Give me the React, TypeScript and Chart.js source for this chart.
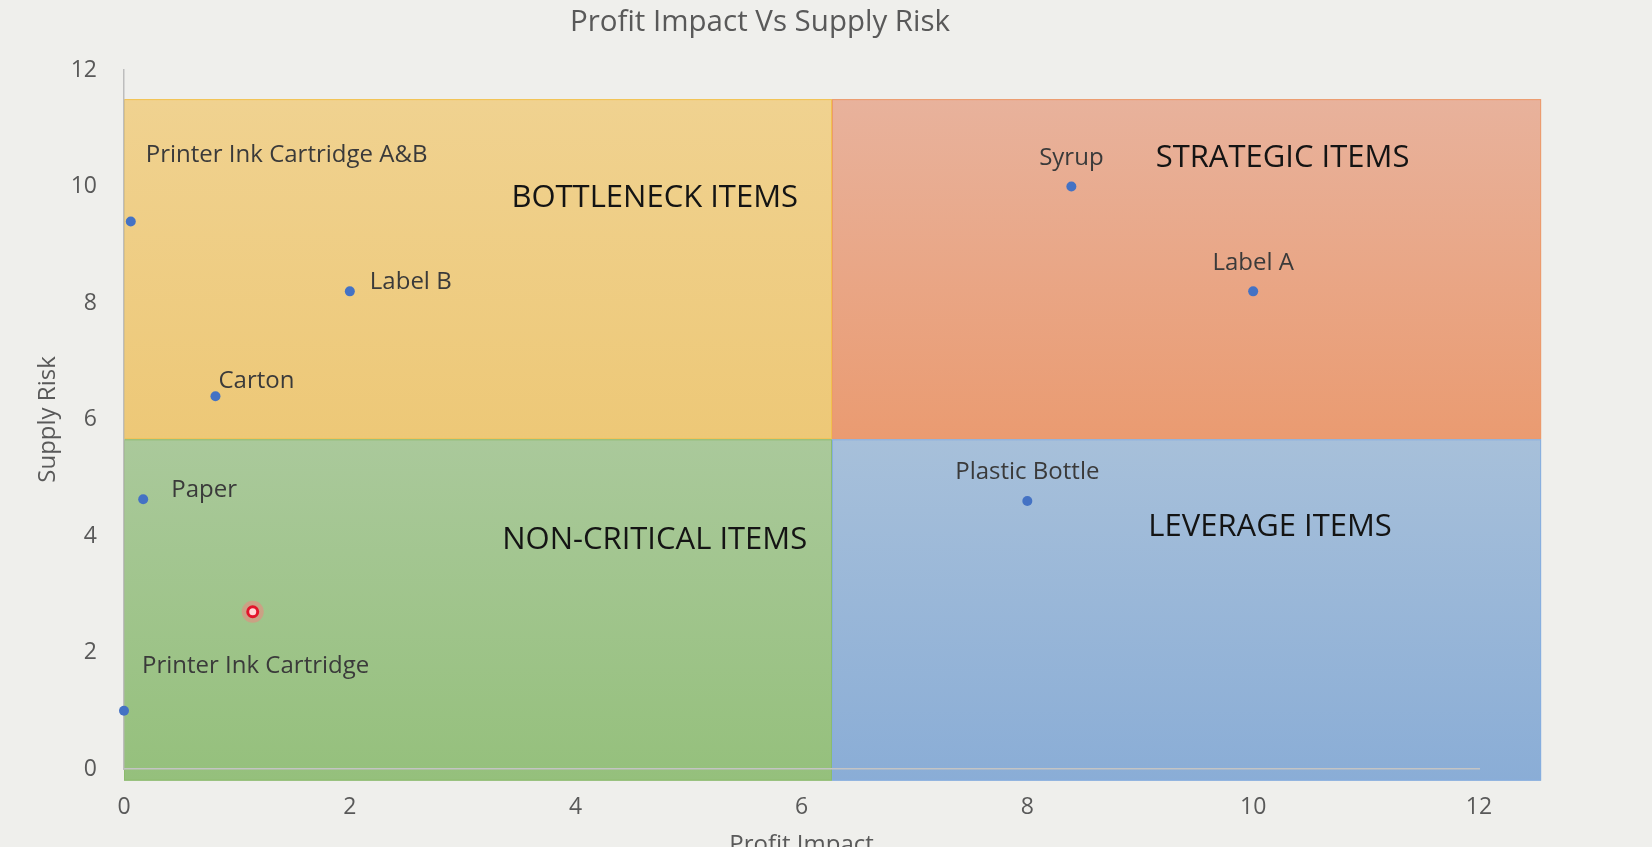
import React, { useEffect, useRef } from "react";
import { Chart, registerables } from "chart.js";

Chart.register(...registerables);

// ---- data ----
const ITEM_NAMES = [
  "Printer Ink Cartridge A&B",
  "Label B",
  "Carton",
  "Paper",
  "Printer Ink Cartridge",
  "Syrup",
  "Label A",
  "Plastic Bottle",
];
const PROFIT_IMPACT = [0.06, 2.0, 0.81, 0.17, 0.0, 8.39, 10.0, 8.0];
const SUPPLY_RISK = [9.4, 8.2, 6.4, 4.63, 1.0, 10.0, 8.2, 4.6];

const POINTER_X = [1.14];
const POINTER_Y = [2.7];

const X_TICKS = [0, 2, 4, 6, 8, 10, 12];
const Y_TICKS = [0, 2, 4, 6, 8, 10, 12];

const QUADRANT_NAMES = ["BOTTLENECK ITEMS", "STRATEGIC ITEMS", "NON-CRITICAL ITEMS", "LEVERAGE ITEMS"];
const QUADRANT_X_EDGES = [0, 6.27, 12.55];
const QUADRANT_Y_EDGES = [-0.2, 5.66, 11.5];
const QUADRANT_LABEL_X = [4.7, 10.26, 4.7, 10.15];
const QUADRANT_LABEL_Y = [9.8, 10.48, 3.92, 4.15];

const TITLE = "Profit Impact Vs Supply Risk";
const X_TITLE = "Profit Impact";
const Y_TITLE = "Supply Risk";

// ---- styles (label placement relative to point, in px) ----
const LABEL_STYLE: { dx: number; dy: number; align: CanvasTextAlign }[] = [
  { dx: 15, dy: -66, align: "left" },
  { dx: 20, dy: -9, align: "left" },
  { dx: 3, dy: -15, align: "left" },
  { dx: 28, dy: -9, align: "left" },
  { dx: 18, dy: -45, align: "left" },
  { dx: 0, dy: -28, align: "center" },
  { dx: 0, dy: -28, align: "center" },
  { dx: 0, dy: -29, align: "center" },
];

// quadrant order: top-left, top-right, bottom-left, bottom-right
const QUADRANT_STYLE = [
  { top: "#F0D290", bottom: "#EDC877", stroke: "#F2C24E" },
  { top: "#E8B29C", bottom: "#EA9B71", stroke: "#EC9A6B" },
  { top: "#AAC99B", bottom: "#95C07C", stroke: "#8CBB6E" },
  { top: "#A7C0DA", bottom: "#8AADD6", stroke: "#86AEE0" },
];

const FONT = '"Open Sans", "DejaVu Sans", sans-serif';

const backgroundPlugin = {
  id: "quadrants",
  beforeDraw(chart: any) {
    const { ctx, scales } = chart;
    const xs = scales.x;
    const ys = scales.y;
    ctx.save();
    ctx.fillStyle = "#EFEFEC";
    ctx.fillRect(0, 0, chart.width, chart.height);
    for (let q = 0; q < 4; q++) {
      const col = q % 2;
      const row = q < 2 ? 1 : 0;
      const x0 = xs.getPixelForValue(QUADRANT_X_EDGES[col]);
      const x1 = xs.getPixelForValue(QUADRANT_X_EDGES[col + 1]);
      const yTop = ys.getPixelForValue(QUADRANT_Y_EDGES[row + 1]);
      const yBot = ys.getPixelForValue(QUADRANT_Y_EDGES[row]);
      const st = QUADRANT_STYLE[q];
      const g = ctx.createLinearGradient(0, yTop, 0, yBot);
      g.addColorStop(0, st.top);
      g.addColorStop(1, st.bottom);
      ctx.fillStyle = g;
      ctx.fillRect(x0, yTop, x1 - x0, yBot - yTop);
      ctx.strokeStyle = st.stroke;
      ctx.lineWidth = 1;
      ctx.strokeRect(x0 + 0.5, yTop + 0.5, x1 - x0 - 1, yBot - yTop - 1);
    }
    ctx.restore();
  },
};

const textPlugin = {
  id: "texts",
  afterDatasetsDraw(chart: any) {
    const { ctx, scales } = chart;
    const xs = scales.x;
    const ys = scales.y;
    ctx.save();
    // quadrant names
    ctx.font = `31px ${FONT}`;
    ctx.fillStyle = "#141414";
    ctx.textAlign = "center";
    ctx.textBaseline = "middle";
    QUADRANT_NAMES.forEach((name, i) => {
      ctx.fillText(name, xs.getPixelForValue(QUADRANT_LABEL_X[i]), ys.getPixelForValue(QUADRANT_LABEL_Y[i]));
    });
    // data labels
    const meta = chart.getDatasetMeta(0);
    ctx.font = `24px ${FONT}`;
    ctx.fillStyle = "#3A3A3A";
    meta.data.forEach((pt: any, i: number) => {
      const s = LABEL_STYLE[i];
      ctx.textAlign = s.align;
      ctx.fillText(ITEM_NAMES[i], pt.x + s.dx, pt.y + s.dy);
    });
    // chart title
    ctx.font = `29.5px ${FONT}`;
    ctx.fillStyle = "#595959";
    ctx.textAlign = "center";
    ctx.fillText(TITLE, 760, 23);
    ctx.restore();
  },
};

export default function App() {
  const canvasRef = useRef<HTMLCanvasElement | null>(null);

  useEffect(() => {
    const canvas = canvasRef.current;
    if (!canvas) return;
    const chart = new Chart(canvas, {
      type: "scatter",
      data: {
        datasets: [
          {
            label: "Items",
            data: PROFIT_IMPACT.map((x, i) => ({ x, y: SUPPLY_RISK[i] })),
            backgroundColor: "#4472C4",
            borderColor: "#4472C4",
            pointRadius: 5,
            pointBorderWidth: 0,
            clip: false as any,
          },
          {
            label: "Pointer",
            data: POINTER_X.map((x, i) => ({ x, y: POINTER_Y[i] })),
            backgroundColor: "#FFD8D8",
            borderColor: "#E3142A",
            pointRadius: 5,
            pointBorderWidth: 3,
            clip: false as any,
          },
          {
            label: "Pointer glow",
            data: POINTER_X.map((x, i) => ({ x, y: POINTER_Y[i] })),
            backgroundColor: "rgba(255,120,125,0.45)",
            borderColor: "rgba(255,70,70,0)",
            pointRadius: 11,
            pointBorderWidth: 0,
            clip: false as any,
          },
        ],
      },
      options: {
        animation: false,
        responsive: false,
        devicePixelRatio: 1,
        events: [],
        layout: { padding: { left: 0, top: 70, right: 173, bottom: 0 } },
        plugins: {
          legend: { display: false },
          tooltip: { enabled: false },
          title: { display: false },
        },
        scales: {
          x: {
            type: "linear",
            min: 0,
            max: 12,
            afterBuildTicks: (s: any) => {
              s.ticks = X_TICKS.map((v) => ({ value: v }));
            },
            afterFit: (s: any) => {
              s.height = 78;
            },
            grid: { display: false, drawTicks: false },
            border: { display: true, color: "#C4C4C4", width: 1.5 },
            ticks: { padding: 25, color: "#595959", font: { family: FONT, size: 23 } },
            title: {
              display: true,
              text: X_TITLE,
              color: "#595959",
              font: { family: FONT, size: 24 },
              padding: { top: 0, bottom: -13 },
            },
          },
          y: {
            type: "linear",
            min: 0,
            max: 12,
            afterBuildTicks: (s: any) => {
              s.ticks = Y_TICKS.map((v) => ({ value: v }));
            },
            afterFit: (s: any) => {
              s.width = 124;
            },
            grid: { display: false, drawTicks: false },
            border: { display: true, color: "#BDBDBD", width: 1.5 },
            ticks: { padding: 27, color: "#595959", font: { family: FONT, size: 23 } },
            title: {
              display: true,
              text: Y_TITLE,
              color: "#595959",
              font: { family: FONT, size: 24 },
              padding: { top: 34, bottom: 0 },
            },
          },
        },
      },
      plugins: [backgroundPlugin, textPlugin],
    });
    return () => chart.destroy();
  }, []);

  return (
    <div style={{ position: "fixed", left: 0, top: 0, width: 1652, height: 847, background: "#EFEFEC" }}>
      <canvas ref={canvasRef} width={1652} height={847} style={{ display: "block" }} />
    </div>
  );
}
